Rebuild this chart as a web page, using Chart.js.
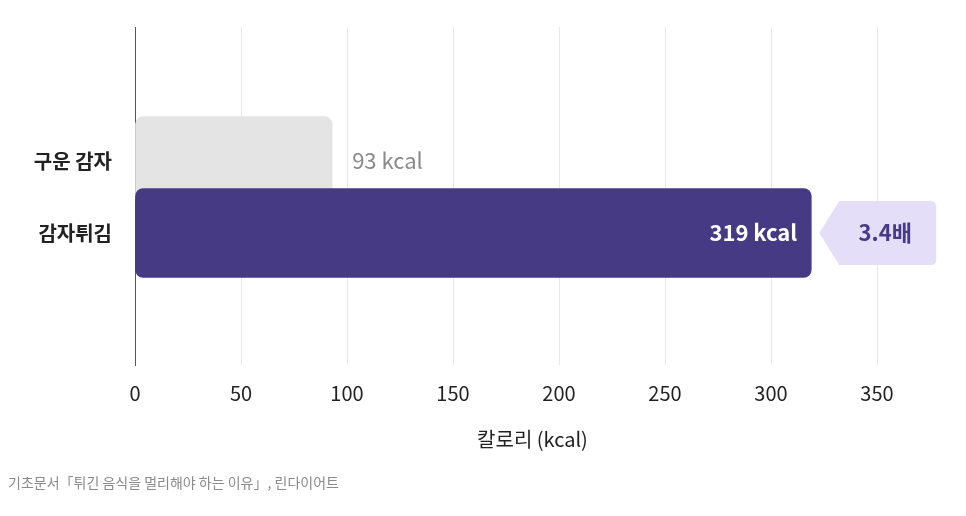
<!DOCTYPE html>
<html>
<head>
<meta charset="utf-8">
<script src="https://cdn.jsdelivr.net/npm/chart.js@4"></script>
<style>
  html, body { margin: 0; padding: 0; background: #fff; }
  #wrap { width: 966px; height: 516px; }
</style>
</head>
<body>
<div id="wrap"><canvas id="calChart"></canvas></div>
<script>
// data
const foodLabels = ["구운 감자", "감자튀김"];
const calValues = [93, 319];
const barColors = ["#e4e4e4", "#463a85"];
const ratioText = "3.4배";
const sourceText = "기초문서「튀긴 음식을 멀리해야 하는 이유」, 린다이어트";
const FONT = "'Noto Sans CJK KR', 'Noto Sans', sans-serif";

// value labels, badge and source line
const labelPlugin = {
  id: "labels",
  afterDatasetsDraw(chart) {
    const ctx = chart.ctx;
    const meta = chart.getDatasetMeta(0);
    ctx.save();
    ctx.textBaseline = "middle";

    let b = meta.data[0];
    ctx.font = "22px " + FONT;
    ctx.fillStyle = "#8a8a8a";
    ctx.textAlign = "left";
    ctx.fillText(calValues[0] + " kcal", b.x + 20, b.y);

    b = meta.data[1];
    ctx.font = "bold 22px " + FONT;
    ctx.fillStyle = "#ffffff";
    ctx.textAlign = "right";
    ctx.fillText(calValues[1] + " kcal", b.x - 14, b.y);

    // ratio badge
    const bx = b.x + 8, by = b.y - 32, bw = 117, bh = 64, r = 6;
    ctx.fillStyle = "#e5def9";
    ctx.beginPath();
    ctx.moveTo(bx, b.y);
    ctx.lineTo(bx + 20, by);
    ctx.lineTo(bx + bw - r, by);
    ctx.quadraticCurveTo(bx + bw, by, bx + bw, by + r);
    ctx.lineTo(bx + bw, by + bh - r);
    ctx.quadraticCurveTo(bx + bw, by + bh, bx + bw - r, by + bh);
    ctx.lineTo(bx + 20, by + bh);
    ctx.closePath();
    ctx.fill();
    ctx.fillStyle = "#463a85";
    ctx.font = "bold 22px " + FONT;
    ctx.textAlign = "center";
    ctx.fillText(ratioText, bx + 66, b.y);

    ctx.font = "14px " + FONT;
    ctx.fillStyle = "#8a8a8a";
    ctx.textAlign = "left";
    ctx.fillText(sourceText, 8, 483);
    ctx.restore();
  }
};

new Chart("calChart", {
  type: "bar",
  data: {
    datasets: [{
      data: calValues.map((v, i) => ({ x: v, y: i })),
      backgroundColor: barColors,
      borderRadius: 8,
      borderSkipped: false,
      barThickness: 89
    }]
  },
  options: {
    indexAxis: "y",
    responsive: true,
    maintainAspectRatio: false,
    animation: false,
    layout: { padding: { top: 20, right: 36, bottom: 51, left: 0 } },
    plugins: { legend: { display: false }, tooltip: { enabled: false } },
    scales: {
      x: {
        type: "linear",
        min: 0, max: 375,
        ticks: {
          stepSize: 50,
          padding: 16,
          color: "#222",
          font: { family: FONT, size: 20 },
          callback: v => (v % 50 === 0 && v <= 350) ? v : ""
        },
        grid: {
          color: c => (c.tick && c.tick.value > 350) ? "rgba(0,0,0,0)" : "#e8e8e8",
          drawTicks: false, tickLength: 0
        },
        border: { display: false },
        title: {
          display: true,
          text: "칼로리 (kcal)",
          color: "#222",
          font: { family: FONT, size: 20 },
          padding: { top: 0, bottom: 14 }
        },
        afterFit(scale) { scale.height = 100; }
      },
      y: {
        type: "linear",
        reverse: true,
        min: -0.69, max: 1.66,
        afterBuildTicks(scale) { scale.ticks = foodLabels.map((l, i) => ({ value: i })); },
        ticks: {
          padding: 15,
          color: "#222",
          font: { family: FONT, size: 20, weight: "bold" },
          callback: v => foodLabels[v]
        },
        grid: { display: false },
        border: { display: true, color: "#555", width: 1 },
        afterFit(scale) { scale.width = 135; }
      }
    }
  },
  plugins: [labelPlugin]
});
</script>
</body>
</html>
